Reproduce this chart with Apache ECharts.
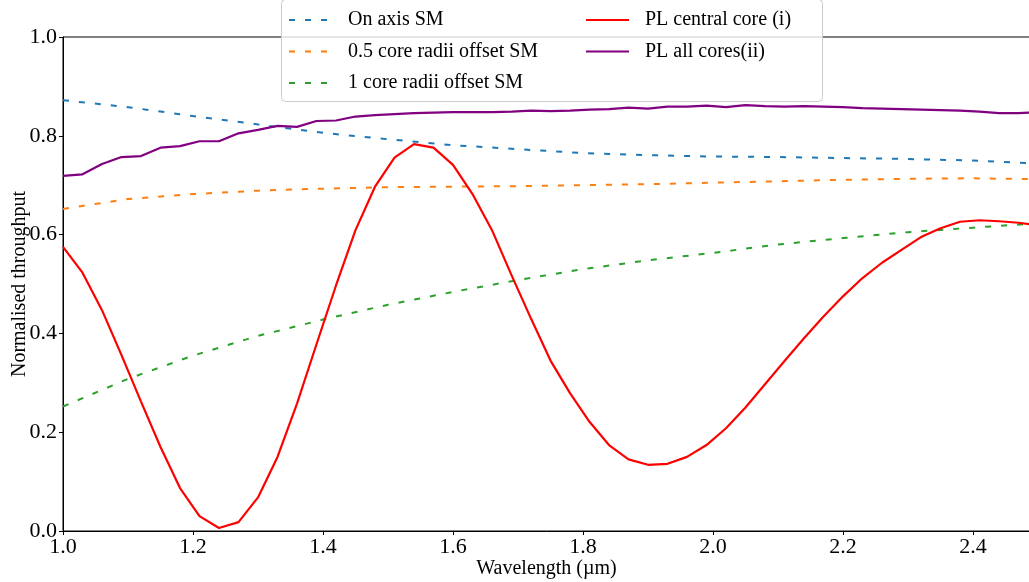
<!DOCTYPE html>
<html>
<head>
<meta charset="utf-8">
<script src="https://cdn.jsdelivr.net/npm/echarts@6/dist/echarts.min.js"></script>
<style>
    html, body { margin: 0; padding: 0; background: #fff; }
    #main { width: 1029px; height: 582px; }
</style>
</head>
<body>
<div id="main"></div>
<script>
// PL curves, sampled every 0.03 um
var plWavelength = [1.00, 1.03, 1.06, 1.09, 1.12, 1.15, 1.18, 1.21, 1.24, 1.27,
    1.30, 1.33, 1.36, 1.39, 1.42, 1.45, 1.48, 1.51, 1.54, 1.57,
    1.60, 1.63, 1.66, 1.69, 1.72, 1.75, 1.78, 1.81, 1.84, 1.87,
    1.90, 1.93, 1.96, 1.99, 2.02, 2.05, 2.08, 2.11, 2.14, 2.17,
    2.20, 2.23, 2.26, 2.29, 2.32, 2.35, 2.38, 2.41, 2.44, 2.47, 2.50];
var plCentral = [0.575, 0.523, 0.447, 0.356, 0.262, 0.170, 0.087, 0.030, 0.006, 0.018,
    0.068, 0.150, 0.258, 0.378, 0.497, 0.609, 0.697, 0.756, 0.783, 0.776,
    0.741, 0.682, 0.609, 0.518, 0.430, 0.345, 0.279, 0.221, 0.174, 0.145,
    0.134, 0.136, 0.150, 0.174, 0.208, 0.250, 0.297, 0.344, 0.390, 0.434,
    0.475, 0.512, 0.543, 0.569, 0.595, 0.613, 0.626, 0.629, 0.627, 0.624, 0.619];
var plAll = [0.719, 0.722, 0.743, 0.757, 0.759, 0.776, 0.779, 0.789, 0.789, 0.805,
    0.812, 0.820, 0.818, 0.830, 0.831, 0.839, 0.842, 0.844, 0.846, 0.847,
    0.848, 0.848, 0.848, 0.849, 0.851, 0.850, 0.851, 0.853, 0.854, 0.857,
    0.855, 0.859, 0.859, 0.861, 0.858, 0.862, 0.860, 0.859, 0.860, 0.859,
    0.858, 0.856, 0.855, 0.854, 0.853, 0.852, 0.851, 0.849, 0.846, 0.846, 0.848];

// single mode fibre curves
var smWavelength = [1.0, 1.1, 1.2, 1.3, 1.4, 1.5, 1.6, 1.7, 1.8, 1.9, 2.0, 2.1, 2.2, 2.3, 2.4, 2.5];
var smOnAxis = [0.872, 0.858, 0.840, 0.823, 0.806, 0.793, 0.781, 0.773, 0.765, 0.761, 0.758, 0.757, 0.755, 0.753, 0.750, 0.744];
var smHalfCore = [0.652, 0.672, 0.682, 0.689, 0.693, 0.696, 0.697, 0.698, 0.700, 0.702, 0.705, 0.708, 0.711, 0.713, 0.714, 0.712];
var smOneCore = [0.252, 0.308, 0.355, 0.395, 0.428, 0.458, 0.484, 0.508, 0.530, 0.548, 0.563, 0.580, 0.593, 0.605, 0.614, 0.623];

var xTicks = [1.0, 1.2, 1.4, 1.6, 1.8, 2.0, 2.2, 2.4];
var yTicks = [0.0, 0.2, 0.4, 0.6, 0.8, 1.0];

var FONT = '"Liberation Serif", "DejaVu Serif", serif';

function pairs(xs, ys) {
    var out = [];
    for (var i = 0; i < xs.length; i++) {
        out.push([xs[i], ys[i]]);
    }
    return out;
}

function lineSeries(name, xs, ys, color, dashed) {
    return {
        name: name,
        type: 'line',
        data: pairs(xs, ys),
        symbol: 'none',
        smooth: false,
        clip: true,
        lineStyle: {
            color: color,
            width: dashed ? 2 : 2.2,
            type: dashed ? [6, 10] : 'solid'
        },
        itemStyle: { color: color },
        z: dashed ? 2 : 3
    };
}

var legendText = {
    fontFamily: FONT,
    fontSize: 20,
    color: '#000',
    lineHeight: 20,
    padding: [0, 0, 0, 11]
};

function legendCol(left, names) {
    return {
        orient: 'vertical',
        left: left,
        top: 5,
        itemWidth: 43,
        itemHeight: 14,
        itemGap: 11.5,
        textStyle: legendText,
        itemStyle: { opacity: 0 }, // hide the marker, keep the line
        z: 20,
        data: names
    };
}

var myChart = echarts.init(document.getElementById('main'), null, { renderer: 'canvas' });

myChart.setOption({
    animation: false,
    backgroundColor: '#fff',
    grid: {
        left: 63,
        right: -1,
        top: 37,
        bottom: 51,
        outerBoundsMode: 'none',
        containLabel: false,
        show: true,
        borderColor: '#000',
        borderWidth: 1
    },
    xAxis: {
        type: 'value',
        min: 1.0,
        max: 2.4877,
        interval: 0.2,
        name: 'Wavelength (\u00b5m)',
        nameLocation: 'middle',
        nameGap: 28,
        nameMoveOverlap: false,
        nameTextStyle: { fontFamily: FONT, fontSize: 20, color: '#000' },
        axisLine: { lineStyle: { color: '#000', width: 1 } },
        axisTick: { show: true, length: 4, lineStyle: { color: '#000' } },
        axisLabel: {
            fontFamily: FONT, fontSize: 22, color: '#000', margin: 5,
            showMaxLabel: false,
            formatter: function (v) {
                return xTicks.indexOf(Math.round(v * 10) / 10) >= 0 ? v.toFixed(1) : '';
            }
        },
        splitLine: { show: false }
    },
    yAxis: {
        type: 'value',
        min: 0,
        max: 1,
        interval: 0.2,
        name: 'Normalised throughput',
        nameLocation: 'middle',
        nameGap: 33,
        nameMoveOverlap: false,
        nameTextStyle: { fontFamily: FONT, fontSize: 20, color: '#000' },
        axisLine: { show: true, lineStyle: { color: '#000', width: 1 } },
        axisTick: { show: true, length: 4, lineStyle: { color: '#000' } },
        axisLabel: {
            fontFamily: FONT, fontSize: 22, color: '#000', margin: 6,
            formatter: function (v) {
                return yTicks.indexOf(Math.round(v * 10) / 10) >= 0 ? v.toFixed(1) : '';
            }
        },
        splitLine: { show: false }
    },
    legend: [
        legendCol(283, ['On axis SM', '0.5 core radii offset SM', '1 core radii offset SM']),
        legendCol(580, ['PL central core (i)', 'PL all cores(ii)'])
    ],
    graphic: [{
        type: 'rect',
        z: 10,
        shape: { x: 281.5, y: -0.5, width: 541, height: 102, r: 4 },
        style: { fill: 'rgba(255,255,255,0.8)', stroke: '#cccccc', lineWidth: 1 }
    }],
    series: [
        lineSeries('On axis SM', smWavelength, smOnAxis, '#1f77b4', true),
        lineSeries('0.5 core radii offset SM', smWavelength, smHalfCore, '#ff7f0e', true),
        lineSeries('1 core radii offset SM', smWavelength, smOneCore, '#2ca02c', true),
        lineSeries('PL central core (i)', plWavelength, plCentral, '#ff0000', false),
        lineSeries('PL all cores(ii)', plWavelength, plAll, '#800080', false)
    ]
});
</script>
</body>
</html>
